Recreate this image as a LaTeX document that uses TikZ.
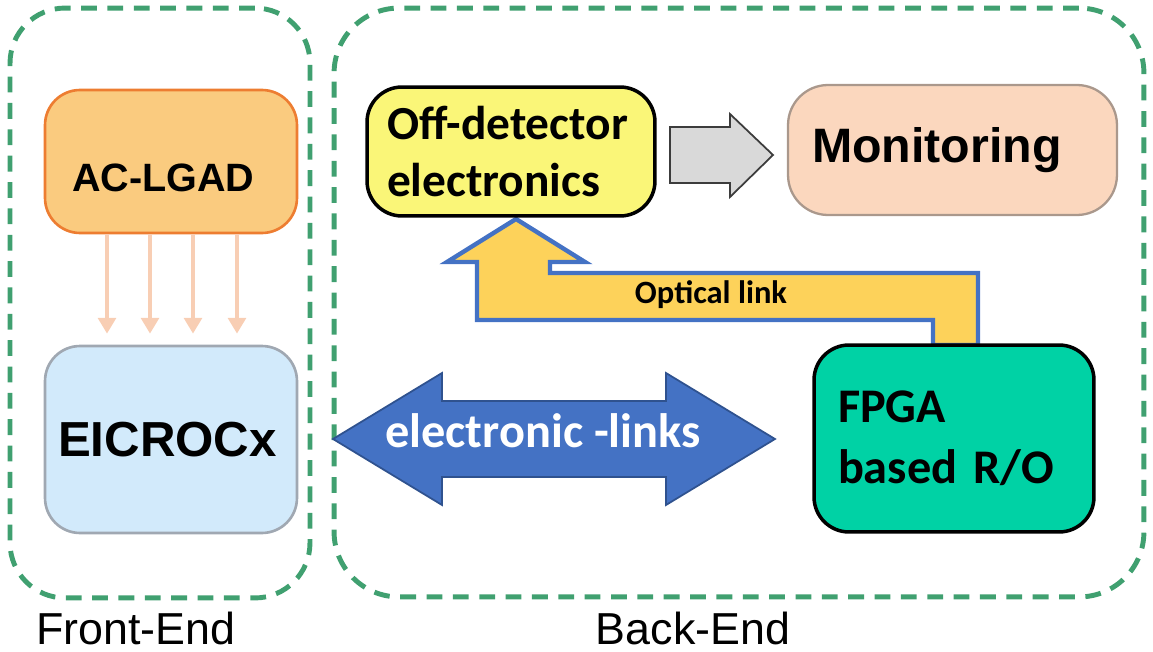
\documentclass[tikz,border=0pt]{standalone}
\usepackage{fontspec}
\setmainfont{Liberation Sans}
\newfontfamily\calib{Carlito}
\usetikzlibrary{arrows.meta}
\definecolor{dashgreen}{RGB}{64,160,112}
\definecolor{lgadfill}{RGB}{250,203,127}
\definecolor{lgadline}{RGB}{237,125,49}
\definecolor{salmon}{RGB}{248,206,180}
\definecolor{eicfill}{RGB}{210,234,251}
\definecolor{eicline}{RGB}{160,168,178}
\definecolor{offfill}{RGB}{250,246,120}
\definecolor{grayfill}{RGB}{217,217,217}
\definecolor{grayline}{RGB}{60,60,60}
\definecolor{monfill}{RGB}{251,215,190}
\definecolor{monline}{RGB}{170,152,140}
\definecolor{optfill}{RGB}{253,210,90}
\definecolor{optline}{RGB}{68,114,196}
\definecolor{elfill}{RGB}{68,114,196}
\definecolor{elline}{RGB}{47,82,143}
\definecolor{fpgafill}{RGB}{0,210,165}
\begin{document}
\begin{tikzpicture}[x=0.02cm,y=-0.02cm,
  region/.style={draw=dashgreen,line width=2.8pt,dash pattern=on 9pt off 6pt,rounded corners=1.1cm,inner sep=0pt},
  blockbox/.style={rounded corners=0.7cm,inner sep=0pt},
  thinarr/.style={draw=salmon,line width=2.6pt,-{Triangle[width=10pt,length=9pt]}},
  arialbig/.style={font=\fontsize{22.5}{26}\selectfont\bfseries},
  calibbig/.style={font=\calib\fontsize{27}{33}\selectfont\bfseries},
  endlabel/.style={font=\fontsize{25.5}{30}\selectfont,inner sep=0pt}]
\useasboundingbox (0,0) rectangle (1153,652);
% regions
\node[region,minimum width=6cm,minimum height=11.8cm] (fe) at (160,303) {};
\node[region,minimum width=16.2cm,minimum height=11.78cm,rounded corners=1.3cm] (be) at (739,302.5) {};
\node[endlabel] (felabel) at (136,628) {Front-End};
\node[endlabel] (belabel) at (693,628) {Back-End};
% boxes
\node[blockbox,fill=lgadfill,draw=lgadline,line width=1.5pt,minimum width=5.04cm,minimum height=2.86cm,
  inner xsep=0.54cm,text width=3.96cm,align=left,text height=34pt,text depth=0pt,arialbig] (aclgad) at (171,161.5) {AC-LGAD};
\node[blockbox,fill=eicfill,draw=eicline,line width=1.5pt,minimum width=5.04cm,minimum height=3.74cm,
  inner xsep=0.26cm,text width=4.52cm,align=left,font=\fontsize{28}{32}\selectfont\bfseries] (eic) at (171,439.5) {EICROCx};
% thin arrows
\draw[thinarr] ([xshift=-1.28cm]aclgad.south) -- ([xshift=-1.28cm,yshift=0.22cm]eic.north);
\draw[thinarr] ([xshift=-0.42cm]aclgad.south) -- ([xshift=-0.42cm,yshift=0.22cm]eic.north);
\draw[thinarr] ([xshift=0.44cm]aclgad.south) -- ([xshift=0.44cm,yshift=0.22cm]eic.north);
\draw[thinarr] ([xshift=1.32cm]aclgad.south) -- ([xshift=1.32cm,yshift=0.22cm]eic.north);
% optical link arrow
\draw[fill=optfill,draw=optline,line width=2.5pt,line join=miter]
  (516,219) -- (585,262) -- (550,262) -- (550,273) -- (978,273) -- (978,345) -- (933,345)
  -- (933,320) -- (477,320) -- (477,262) -- (447,262) -- cycle;
\node[font=\calib\fontsize{18.5}{22}\selectfont\bfseries,inner sep=0pt] (optlabel) at (711,295) {Optical link};
% gray arrow
\draw[fill=grayfill,draw=grayline,line width=1pt,line join=miter]
  (670,127) -- (730,127) -- (730,114) -- (773,155) -- (730,197) -- (730,183) -- (670,183) -- cycle;
% electronic links double arrow
\draw[fill=elfill,draw=elline,line width=1pt,line join=miter]
  (333,439) -- (442,373) -- (442,401) -- (666,401) -- (666,373) -- (775,439) -- (666,505)
  -- (666,477) -- (442,477) -- (442,505) -- cycle;
\node[font=\calib\fontsize{27.5}{32}\selectfont\bfseries,text=white,inner sep=0pt] (elinks) at (543,431) {electronic -links};
% back-end boxes
\node[blockbox,fill=offfill,draw=black,line width=2pt,minimum width=5.76cm,minimum height=2.58cm,
  inner xsep=0.4cm,text width=4.96cm,align=left,calibbig] (off) at (511,151.5) {Off-detector\\electronics};
\node[blockbox,fill=monfill,draw=monline,line width=1.3pt,minimum width=6.58cm,minimum height=2.6cm,rounded corners=0.8cm,
  inner xsep=0.48cm,text width=5.62cm,align=left,font=\fontsize{27.5}{32}\selectfont\bfseries] (mon) at (952.5,150) {Monitoring};
\node[blockbox,fill=fpgafill,draw=black,line width=2pt,minimum width=5.6cm,minimum height=3.74cm,
  inner xsep=0.48cm,text width=4.64cm,align=left,font=\calib\fontsize{27.5}{35}\selectfont\bfseries] (fpga) at (954,438.5) {FPGA\\based R/O};
\end{tikzpicture}
\end{document}
